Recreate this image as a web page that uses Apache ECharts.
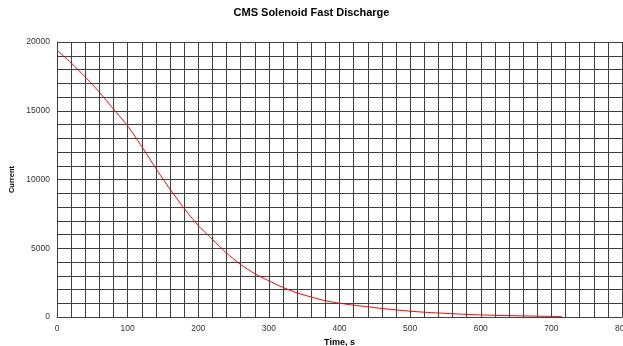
<!DOCTYPE html>
<html><head><meta charset="utf-8">
<script src="https://cdn.jsdelivr.net/npm/echarts@6/dist/echarts.min.js"></script>
<style>html,body{margin:0;padding:0;background:#fff}#c{width:623px;height:346px}</style>
</head><body><div id="c"></div>
<script>
var times = [0,20,40,60,80,100,120,140,160,180,200,220,240,260,280,300,320,340,360,380,400,420,440,460,480,500,520,540,560,580,600,620,640,660,680,700,715];
var current = [19400,18480,17460,16350,15120,13900,12400,10800,9300,7900,6650,5650,4650,3820,3150,2630,2150,1750,1450,1180,1000,860,740,620,520,420,350,290,240,190,150,120,100,80,60,45,35];
var xTicks = [0,100,200,300,400,500,600,700,800];
var yTicks = [0,5000,10000,15000,20000];

var chart = echarts.init(document.getElementById('c'), null, {renderer:'canvas'});
var lineColor = '#404040';
var ff = 'Arial, Liberation Sans';
chart.setOption({
  animation:false,
  backgroundColor:'#fff',
  title:{text:'CMS Solenoid Fast Discharge', left:'center', top:2,
    textStyle:{fontFamily:ff, fontSize:11, fontWeight:'bold', color:'#000'}},
  grid:{left:57, right:1, top:42, bottom:29, containLabel:false, outerBoundsMode:'none'},
  xAxis:{type:'value', min:xTicks[0], max:xTicks[xTicks.length-1], interval:100,
    name:'Time, s', nameLocation:'middle', nameGap:19,
    nameTextStyle:{fontFamily:ff, fontSize:9, fontWeight:'bold', color:'#000'},
    axisLine:{show:true, lineStyle:{color:lineColor, width:1}},
    axisTick:{show:false},
    axisLabel:{fontFamily:ff, fontSize:8.5, color:'#333', margin:7,
      formatter:function(v){return String(v);}},
    splitLine:{show:true, lineStyle:{color:lineColor, width:1}},
    minorTick:{show:false, splitNumber:5},
    minorSplitLine:{show:true, lineStyle:{color:lineColor, width:1}}
  },
  yAxis:{type:'value', min:yTicks[0], max:yTicks[yTicks.length-1], interval:5000,
    name:'Current', nameLocation:'middle', nameGap:39,
    nameTextStyle:{fontFamily:ff, fontSize:7.5, fontWeight:'bold', color:'#000'},
    axisLine:{show:true, lineStyle:{color:lineColor, width:1}},
    axisTick:{show:false},
    axisLabel:{fontFamily:ff, fontSize:8.5, color:'#333', margin:7,
      formatter:function(v){return String(v);}},
    splitLine:{show:true, lineStyle:{color:lineColor, width:1}},
    minorTick:{show:false, splitNumber:5},
    minorSplitLine:{show:true, lineStyle:{color:lineColor, width:1}}
  },
  series:[{type:'line', data:times.map(function(t,i){return [t,current[i]];}),
    showSymbol:false, smooth:0.2, lineStyle:{color:'#ff0000', width:1}, z:5}]
});
</script></body></html>
